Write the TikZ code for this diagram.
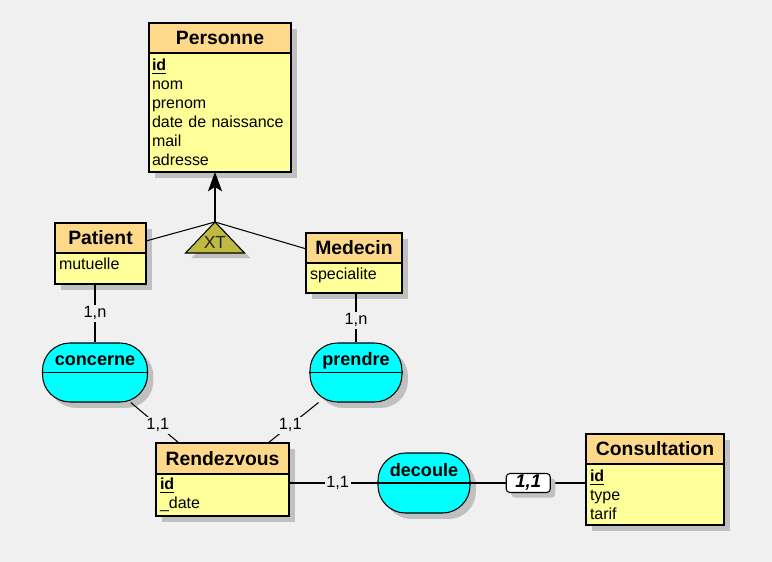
\documentclass[tikz,border=0pt]{standalone}
\usepackage{fontspec}
\setmainfont{Liberation Sans}
\usetikzlibrary{positioning,fit,shadows,arrows.meta}
\definecolor{bgcol}{RGB}{240,240,240}
\definecolor{headcol}{RGB}{255,217,138}
\definecolor{bodycol}{RGB}{255,255,153}
\definecolor{relcol}{RGB}{0,255,255}
\definecolor{xtcol}{RGB}{191,187,64}
\definecolor{shadowcol}{RGB}{192,192,192}
\tikzstyle{boxshadow} = [drop shadow={shadow xshift=0.12cm, shadow yshift=-0.12cm, fill=shadowcol, opacity=1}]
\tikzstyle{entityhead} = [rectangle, draw=black, fill=headcol, boxshadow, minimum height=0.6cm, inner sep=0pt, outer sep=0pt, font=\bfseries\fontsize{11}{13}\selectfont]
\tikzstyle{entitybody} = [rectangle, draw=black, fill=bodycol, boxshadow, inner xsep=0.08cm, inner ysep=0pt, outer sep=0pt, align=left, font=\fontsize{9.1}{10.8}\selectfont]
\tikzstyle{entity} = [rectangle, inner sep=0pt, outer sep=0pt]
\tikzstyle{relation} = [rectangle, rounded corners=0.55cm, draw=black, fill=relcol, boxshadow, minimum height=1.18cm, inner sep=0pt, text height=7pt, text depth=14.6pt, font=\bfseries\fontsize{10.3}{12}\selectfont]
\tikzstyle{card} = [fill=bgcol, inner sep=1pt, font=\fontsize{9.3}{11}\selectfont]
\tikzstyle{cardbox} = [draw=black, fill=white, rounded corners=2pt, drop shadow={shadow xshift=0.1cm, shadow yshift=-0.1cm, fill=shadowcol, opacity=1}, minimum width=0.88cm, minimum height=0.38cm, inner sep=0pt, font=\bfseries\itshape\fontsize{10.5}{12}\selectfont]
\tikzstyle{arrow} = [-{Stealth[length=11pt, width=8pt, inset=2.5pt]}]

\begin{document}
\begin{tikzpicture}[x=0.02cm, y=-0.02cm, line width=0.6pt]
\fill[bgcol] (0,0) rectangle (772,562);

\node(personne-h) [entityhead, minimum width=2.84cm] at (220,38) {Personne};
\node(personne-b) [entitybody, text width=2.72cm, inner xsep=0.06cm, minimum height=2.38cm, below=0pt of personne-h] {\underline{\textbf{id}}\\nom\\prenom\\date de naissance\\mail\\adresse};
\node(personne) [entity, fit=(personne-h)(personne-b)] {};

\node(patient-h) [entityhead, minimum width=1.82cm] at (100.5,238) {Patient};
\node(patient-b) [entitybody, text width=1.66cm, minimum height=0.62cm, text depth=5pt, below=0pt of patient-h] {mutuelle};
\node(patient) [entity, fit=(patient-h)(patient-b)] {};

\node(medecin-h) [entityhead, minimum width=1.92cm] at (354,248) {Medecin};
\node(medecin-b) [entitybody, text width=1.76cm, minimum height=0.6cm, text depth=5pt, below=0pt of medecin-h] {specialite};
\node(medecin) [entity, fit=(medecin-h)(medecin-b)] {};

\node(rendezvous-h) [entityhead, minimum width=2.66cm, minimum height=0.62cm] at (222.5,458.5) {Rendezvous};
\node(rendezvous-b) [entitybody, text width=2.5cm, minimum height=0.84cm, below=0pt of rendezvous-h] {\underline{\textbf{id}}\\\_date};
\node(rendezvous) [entity, fit=(rendezvous-h)(rendezvous-b)] {};

\node(consultation-h) [entityhead, minimum width=2.76cm] at (655,449) {Consultation};
\node(consultation-b) [entitybody, text width=2.6cm, minimum height=1.22cm, below=0pt of consultation-h] {\underline{\textbf{id}}\\type\\tarif};
\node(consultation) [entity, fit=(consultation-h)(consultation-b)] {};

\node(concerne) [relation, minimum width=2.1cm] at (95,372.5) {concerne};
\node(prendre) [relation, minimum width=1.84cm] at (356,372.5) {prendre};
\node(decoule) [relation, minimum width=1.84cm, minimum height=1.2cm] at (424,483) {decoule};
\draw (concerne.west) -- (concerne.east);
\draw (prendre.west) -- (prendre.east);
\draw (decoule.west) -- (decoule.east);

\coordinate (xt) at (215,222);
\draw (patient) -- (xt);
\draw (medecin) -- (xt);
\draw [arrow] (xt) -- (xt |- personne.south);
\fill[shadowcol] ([shift={(6,5)}]xt) -- ++(-29.5,31) -- ++(59,0) -- cycle;
\draw[fill=xtcol] (xt) -- ++(-29.5,31) -- ++(59,0) -- cycle;
\node(xt-label) [font=\fontsize{10}{12}\selectfont, text=black!85] at (215,242) {XT};

\draw (concerne |- patient.south) -- (concerne) node[card, pos=0.5] (card-patient) {1,n};
\draw (prendre |- medecin.south) -- (prendre) node[card, pos=0.55] (card-medecin) {1,n};
\draw (concerne) -- (rendezvous) node[card, pos=0.56] (card-concerne) {1,1};
\draw (prendre) -- (rendezvous) node[card, pos=0.56] (card-prendre) {1,1};
\draw (rendezvous.east |- decoule) -- (decoule) node[card, pos=0.55] (card-decoule) {1,1};
\draw (decoule) -- (decoule -| consultation.west) node[cardbox, pos=0.5] (card-consultation) {1,1};

\end{tikzpicture}
\end{document}
